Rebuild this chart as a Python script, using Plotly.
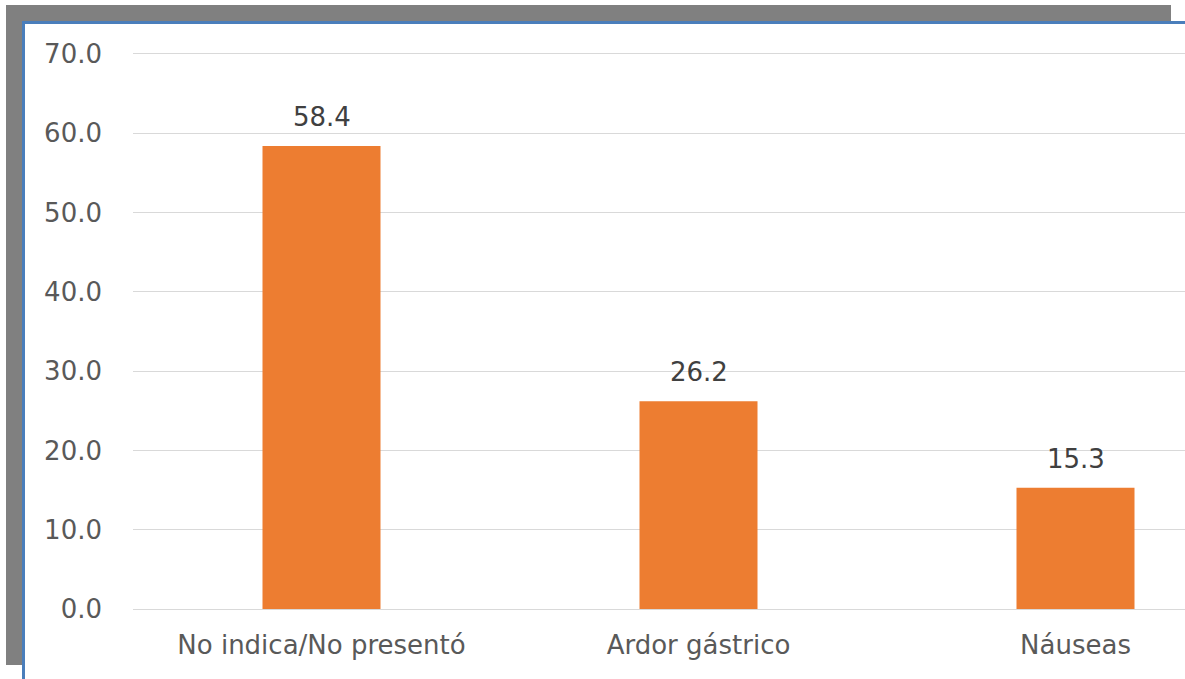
import plotly.graph_objects as go

categories = ["No indica/No presentó", "Ardor gástrico", "Náuseas"]
values = [58.4, 26.2, 15.3]
value_labels = ["58.4", "26.2", "15.3"]
y_ticks = [0, 10, 20, 30, 40, 50, 60, 70]
y_tick_labels = ["0.0", "10.0", "20.0", "30.0", "40.0", "50.0", "60.0", "70.0"]

W, H = 1185, 679
L, R, T, B = 133, 0, 50, 70
pw = W - L - R
ph = H - T - B
FONT = "DejaVu Sans"
FS = 26

def px(x):
    return (x - L) / pw

def py(y):
    return (H - B - y) / ph

xs = list(range(len(categories)))

fig = go.Figure(go.Bar(
    x=xs, y=values,
    marker=dict(color="#ED7D31", line=dict(width=0)),
    width=0.313,
))

annotations = [
    dict(x=x, y=v, text=t, xref="x", yref="y", showarrow=False,
         yanchor="bottom", yshift=12,
         font=dict(size=FS, color="#404040", family=FONT))
    for x, v, t in zip(xs, values, value_labels)
]

shapes = [
    dict(type="rect", xref="paper", yref="paper", x0=px(6), x1=px(1171), y0=py(22), y1=py(5),
         fillcolor="#808080", line=dict(width=0), layer="below"),
    dict(type="rect", xref="paper", yref="paper", x0=px(6), x1=px(22), y0=py(665), y1=py(5),
         fillcolor="#808080", line=dict(width=0), layer="below"),
    dict(type="rect", xref="paper", yref="paper", x0=px(22), x1=px(1185), y0=py(679), y1=py(21),
         fillcolor="white", line=dict(width=0), layer="below"),
    dict(type="rect", xref="paper", yref="paper", x0=px(22), x1=px(1185), y0=py(24), y1=py(21),
         fillcolor="#4A7EBB", line=dict(width=0), layer="below"),
    dict(type="rect", xref="paper", yref="paper", x0=px(22), x1=px(25), y0=py(679), y1=py(21),
         fillcolor="#4A7EBB", line=dict(width=0), layer="below"),
]

fig.update_layout(
    width=W, height=H,
    margin=dict(l=L, r=R, t=T, b=B, pad=0),
    paper_bgcolor="white", plot_bgcolor="rgba(0,0,0,0)",
    showlegend=False,
    shapes=shapes,
    annotations=annotations,
    font=dict(family=FONT, color="#595959", size=FS),
    xaxis=dict(
        range=[-0.5, -0.5 + pw / 377.0],
        tickmode="array", tickvals=xs, ticktext=categories,
        showgrid=False, zeroline=False, showline=False, ticks="",
        tickfont=dict(size=FS, color="#595959", family=FONT),
        ticklabelstandoff=18,
    ),
    yaxis=dict(
        range=[0, 70.5], tickmode="array", tickvals=y_ticks, ticktext=y_tick_labels,
        showgrid=True, gridcolor="#D9D9D9", gridwidth=1,
        zeroline=True, zerolinecolor="#D9D9D9", zerolinewidth=1,
        showline=False, ticks="",
        tickfont=dict(size=FS, color="#595959", family=FONT),
        ticklabelstandoff=30,
    ),
)

fig.write_html("out.html")
